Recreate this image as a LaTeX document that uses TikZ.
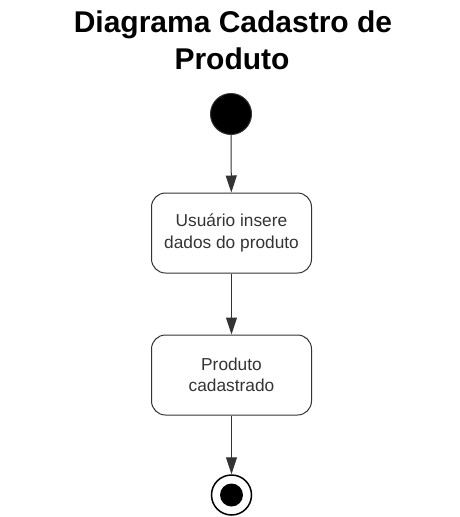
\documentclass[tikz,border=0pt]{standalone}
\usepackage{fontspec}
\setmainfont{Liberation Sans}
\usetikzlibrary{arrows.meta}
\definecolor{ln}{HTML}{333333}
\begin{document}
\begin{tikzpicture}[x=1pt,y=-1pt,
  act/.style={draw=ln, line width=1pt, rounded corners=14pt, minimum width=160pt, minimum height=80pt, align=center, font=\fontsize{17.3}{21.5}\selectfont, text=ln},
  ttl/.style={font=\bfseries\fontsize{30}{37}\selectfont, anchor=base, inner sep=0pt},
  flow/.style={draw=ln, line width=1pt, -{Triangle[length=17pt,width=11pt]}}]
\useasboundingbox (0,0) rectangle (460,517);
\node[ttl] (title1) at (233,32) {Diagrama Cadastro de};
\node[ttl] (title2) at (232,69) {Produto};
\node[circle, fill=black, draw=ln, line width=1pt, minimum size=41pt, inner sep=0pt] (start) at (231,114) {};
\node[act] (a1) at (231.5,233) {Usuário insere\\dados do produto};
\node[act] (a2) at (231.5,375) {Produto\\cadastrado};
\node[circle, draw=black, line width=1.5pt, minimum size=40pt, inner sep=0pt] (end) at (231.5,495) {};
\node[circle, fill=black, minimum size=23pt, inner sep=0pt] (endin) at (end.center) {};
\draw[flow] (start) -- (a1);
\draw[flow] (a1) -- (a2);
\draw[flow] (a2) -- (end);
\end{tikzpicture}
\end{document}
